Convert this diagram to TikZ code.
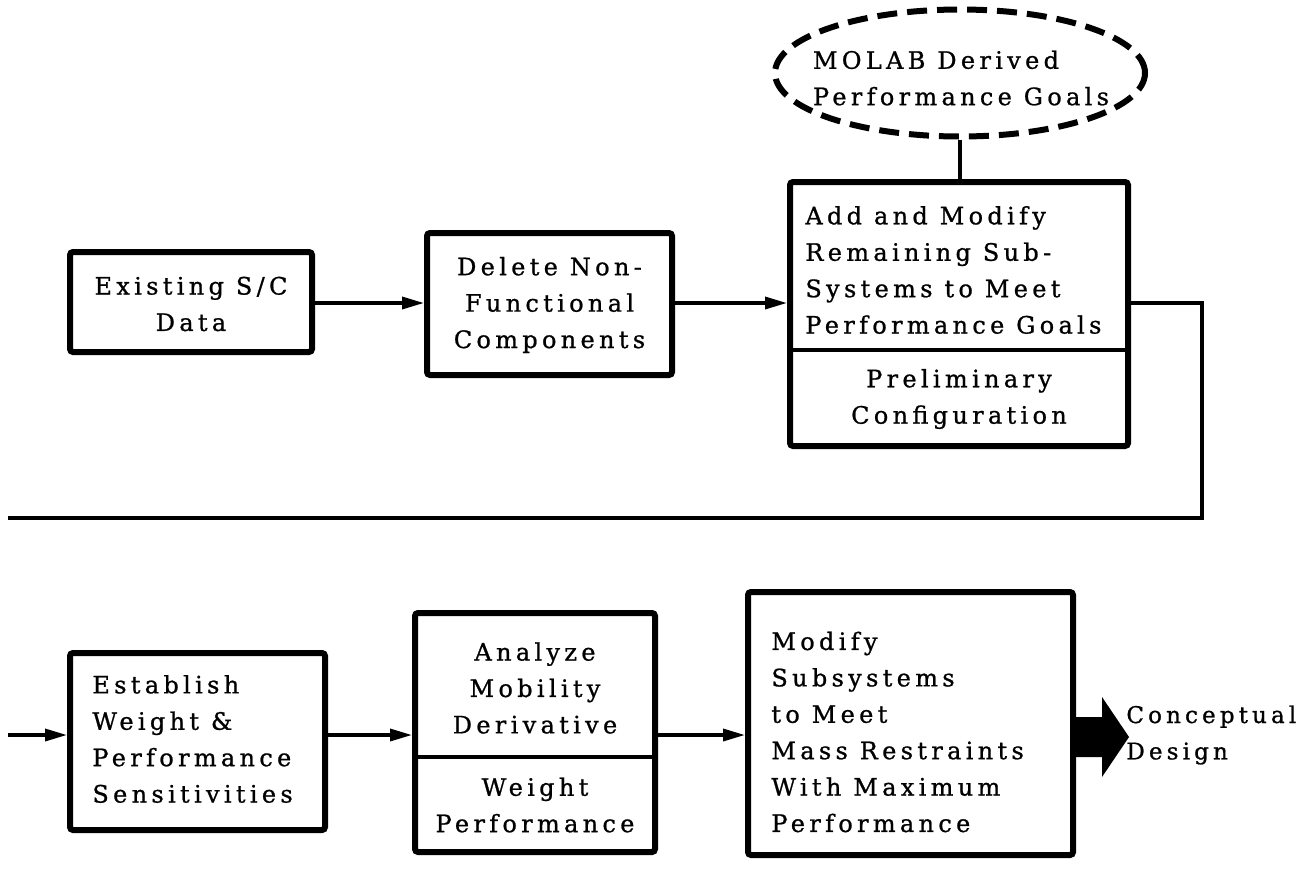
\documentclass[tikz,border=0pt]{standalone}
\usepackage{fontspec}
\setmainfont{DejaVu Serif}[LetterSpace=18,FakeBold=0.9]
\usetikzlibrary{arrows.meta,shapes.geometric}
\begin{document}
\begin{tikzpicture}[x=0.5pt,y=-0.5pt,
  box/.style={draw,line width=3pt,rounded corners=1.5pt,inner sep=0pt},
  txt/.style={font=\fontsize{12}{18.2}\selectfont,inner sep=0pt},
  conn/.style={line width=1.7pt},
  arr/.style={conn,-{Triangle[length=11pt,width=6pt]}},
  divider/.style={line width=1.7pt}]
\useasboundingbox (0,0) rectangle (1310,879);
% goal ellipse
\node[ellipse,draw,line width=3pt,dash pattern=on 10pt off 5pt,minimum width=185pt,minimum height=63.5pt,inner sep=0pt] (goal) at (960,73) {};
\node[txt,align=left] (goaltxt) at (961,78) {MOLAB Derived\\Performance Goals};
% boxes
\node[box,minimum width=121pt,minimum height=50pt] (b1) at (191,302) {};
\node[txt,align=center] (t1) at (191,304) {Existing S/C\\Data};
\node[box,minimum width=122.5pt,minimum height=71pt] (b2) at (549.5,304) {};
\node[txt,align=center] (t2) at (549.5,305) {Delete Non-\\Functional\\Components};
\node[box,minimum width=169pt,minimum height=132pt] (b3) at (959,314) {};
\node[txt,align=left,anchor=west] (t3a) at (805,270) {Add and Modify\\Remaining Sub-\\Systems to Meet\\Performance Goals};
\node[txt,align=center] (t3b) at (959,399) {Preliminary\\Configuration};
\draw[divider] (b3.west |- 0,350) -- (b3.east |- 0,350);
\node[box,minimum width=127.5pt,minimum height=88.5pt] (b4) at (197.5,741.5) {};
\node[txt,align=left,anchor=west] (t4) at (92,739) {Establish\\Weight \&\\Performance\\Sensitivities};
\node[box,minimum width=120pt,minimum height=119.5pt] (b5) at (535,732.5) {};
\node[txt,align=center] (t5a) at (535,688) {Analyze\\Mobility\\Derivative};
\node[txt,align=center] (t5b) at (535,805) {Weight\\Performance};
\draw[divider] (b5.west |- 0,757) -- (b5.east |- 0,757);
\node[box,minimum width=162.5pt,minimum height=131.5pt] (b6) at (910.5,723.5) {};
\node[txt,align=left,anchor=west] (t6) at (771,732) {Modify\\Subsystems\\to Meet\\Mass Restraints\\With Maximum\\Performance};
\node[txt,align=left,anchor=west,font=\fontsize{11.5}{18.2}\selectfont] (out) at (1126,735) {Conceptual\\Design};
% connectors
\draw[conn] (goal.south) -- (goal.south |- b3.north);
\draw[arr] (b1.east |- 0,303) -- (b2.west |- 0,303);
\draw[arr] (b2.east |- 0,303) -- (b3.west |- 0,303);
\coordinate (fbR) at (1202,303);
\coordinate (fbL) at (8,518);
\draw[conn] (b3.east |- fbR) -- (fbR) |- (fbL);
\coordinate (in4) at (8,735);
\draw[arr] (in4) -- (in4 -| b4.west);
\draw[arr] (b4.east |- in4) -- (b5.west |- in4);
\draw[arr] (b5.east |- in4) -- (b6.west |- in4);
% big output arrow
\fill (b6.east |- 0,717) -- (1102,717) -- (1102,697) -- (1129,737) -- (1102,777) -- (1102,757) -- (b6.east |- 0,757) -- cycle;
\end{tikzpicture}
\end{document}
